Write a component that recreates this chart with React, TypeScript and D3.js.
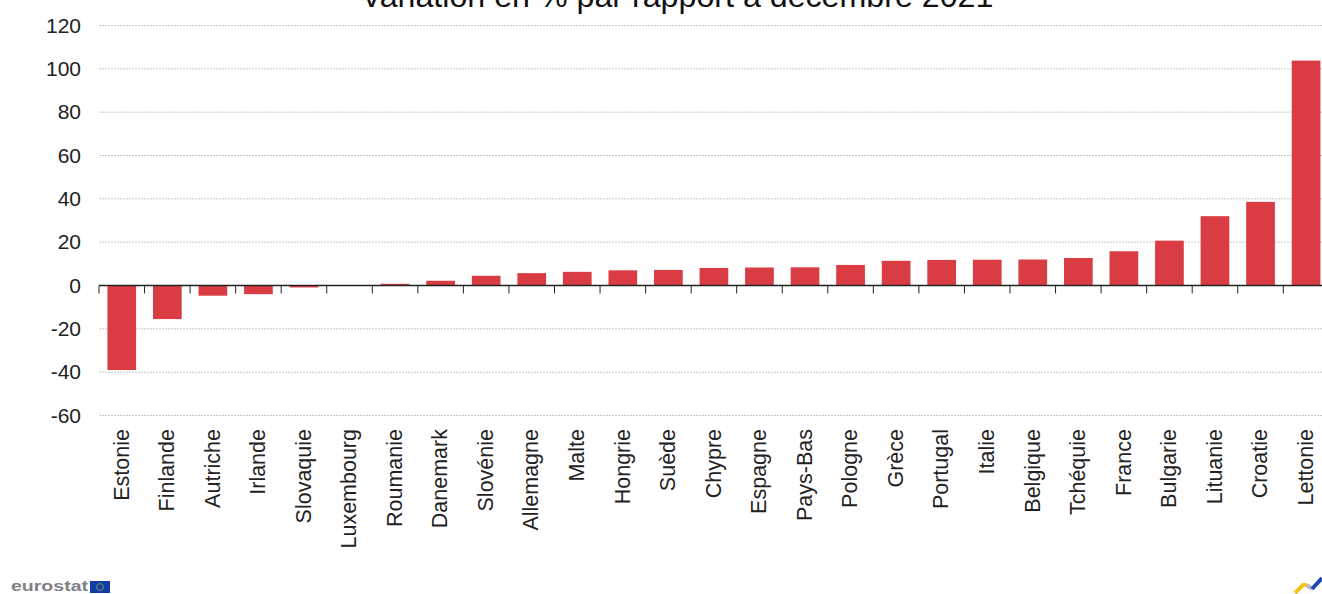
import React from "react";
import * as d3 from "d3";

const countries = ["Estonie","Finlande","Autriche","Irlande","Slovaquie","Luxembourg","Roumanie","Danemark","Slovénie","Allemagne","Malte","Hongrie","Suède","Chypre","Espagne","Pays-Bas","Pologne","Grèce","Portugal","Italie","Belgique","Tchéquie","France","Bulgarie","Lituanie","Croatie","Lettonie"];
const values = [-39,-15.5,-4.7,-4,-0.9,0,0.8,2.2,4.5,5.7,6.3,7,7.2,8.1,8.3,8.4,9.5,11.4,11.8,11.9,12,12.7,15.8,20.7,32,38.6,103.8];
const yTicks = [120,100,80,60,40,20,0,-20,-40,-60];
const title = "variation en % par rapport à décembre 2021";

const W = 1322, H = 594;
const FONT = "Liberation Sans, Arial, sans-serif";

export default function App() {
  const y = d3.scaleLinear().domain([-60, 120]).range([415.5, 25.5]);
  const x = d3.scaleBand<string>().domain(countries).range([99, 99 + 45.55 * countries.length]).paddingInner(0.37).paddingOuter(0.185);
  const step = x.step();
  const x0 = 99;
  return (
    <svg width={W} height={H} viewBox={`0 0 ${W} ${H}`} style={{ position: "absolute", left: 0, top: 0, background: "#fff" }}>
      <text x={678.5} y={7} textAnchor="middle" fontFamily={FONT} fontSize={32.2} fill="#111">{title}</text>
      {yTicks.map(t => (
        <g key={t}>
          {t !== 0 && <line x1={x0} x2={W} y1={y(t)} y2={y(t)} stroke="#c8c8c8" strokeWidth={1} strokeDasharray="2 1" />}
          <text x={81} y={y(t)} dy="0.34em" textAnchor="end" fontFamily={FONT} fontSize={21} fill="#222">{t}</text>
        </g>
      ))}
      {countries.map((c, i) => {
        const v = values[i];
        return <rect key={c} x={x(c)} width={x.bandwidth()} y={y(Math.max(v, 0))} height={Math.abs(y(v) - y(0))} fill="#d93c43" />;
      })}
      <line x1={x0} x2={W} y1={y(0)} y2={y(0)} stroke="#222" strokeWidth={1.3} />
      {countries.map((c, i) => (
        <line key={c} x1={x0 + i * step} x2={x0 + i * step} y1={y(0)} y2={y(0) + 8} stroke="#222" strokeWidth={1} />
      ))}
      {countries.map(c => {
        const cx = (x(c) as number) + x.bandwidth() / 2 - 1;
        return (
          <text key={c} transform={`translate(${cx},429) rotate(-90)`} dy="0.36em" textAnchor="end" fontFamily={FONT} fontSize={21.5} fill="#222">{c}</text>
        );
      })}
      <text x={11} y={591} fontFamily={FONT} fontSize={15} fontWeight={700} fill="#808085" textLength={77} lengthAdjust="spacingAndGlyphs">eurostat</text>
      <rect x={90} y={581} width={20} height={12} fill="#0f3fa6" />
      <circle cx={100} cy={587} r={3.4} fill="none" stroke="#8a8a50" strokeWidth={1} />
      <path d="M1295 593 L1303 585 L1307 585" fill="none" stroke="#f5c518" strokeWidth={4} />
      <path d="M1307 585 L1312 589" fill="none" stroke="#b5b8c0" strokeWidth={4} />
      <path d="M1312 589 L1322 578" fill="none" stroke="#1f47b4" strokeWidth={4} />
    </svg>
  );
}
